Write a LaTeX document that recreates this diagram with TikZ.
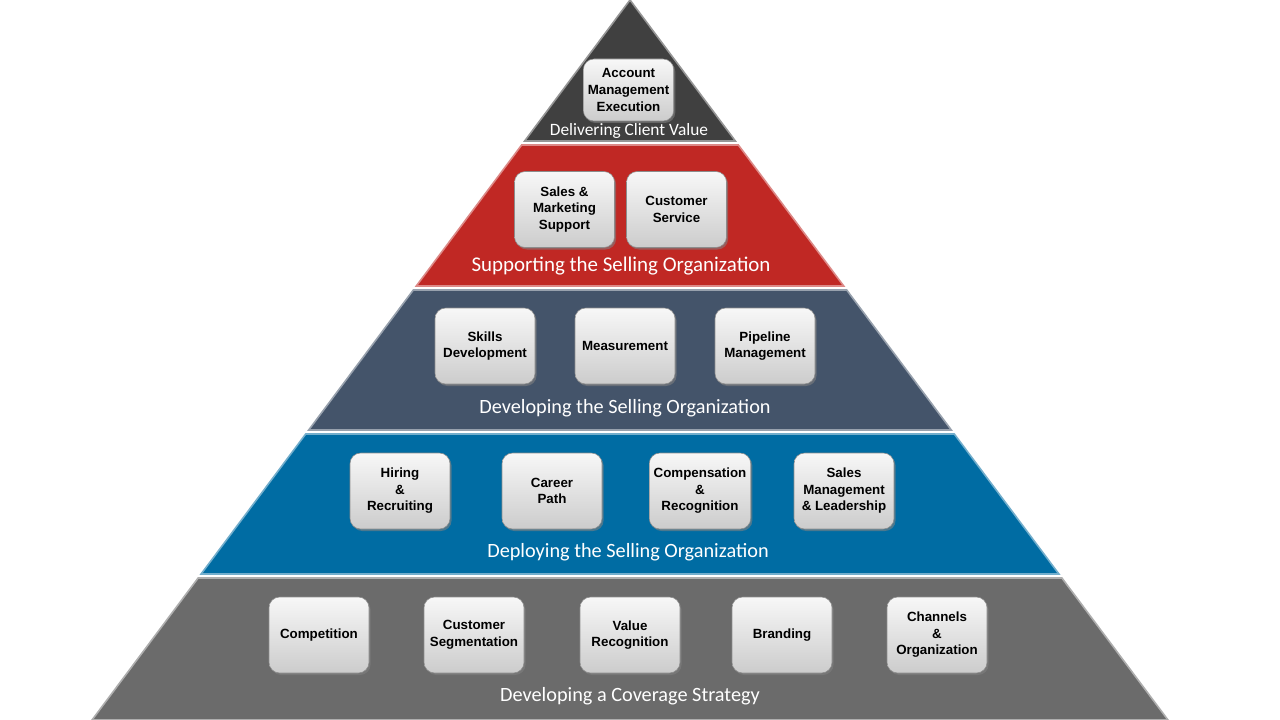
\documentclass[tikz,border=0pt]{standalone}
\usepackage{fontspec}
\setmainfont{Carlito}
\newfontfamily\boxfont{Liberation Sans}
\usepackage{tikz}
\usetikzlibrary{shadows,positioning}
\definecolor{apexgray}{RGB}{64,64,64}
\definecolor{supportred}{RGB}{192,40,36}
\definecolor{slateblue}{RGB}{68,84,106}
\definecolor{deepblue}{RGB}{0,108,163}
\definecolor{basegray}{RGB}{107,107,107}
\tikzstyle{tile}=[rectangle,rounded corners=8pt,draw=black!45,top color=black!3,bottom color=black!20,minimum width=75pt,minimum height=57pt,align=center,font=\boxfont\bfseries\fontsize{10}{12.4}\selectfont,drop shadow={opacity=.6,shadow xshift=1.2pt,shadow yshift=-1.5pt}]
\tikzstyle{tiername}=[text=white,font=\fontsize{15.2}{18}\selectfont]
\tikzstyle{bevel}=[line width=1.2pt,line join=miter]
% one tier of the pyramid, between rows #1 and #2
\newcommand{\tier}[3]{%
  \filldraw[bevel,fill=#3,draw=#3!55!white]
    ({630-0.7472*#1},#1) -- ({630+0.7472*#1},#1) --
    ({630+0.7472*#2},#2) -- ({630-0.7472*#2},#2) -- cycle;}

\begin{document}
\begin{tikzpicture}[x=0.75pt,y=-0.75pt]
  \useasboundingbox (0,0) rectangle (1280,720);

  \tier{1}{141}{apexgray}
  \tier{145}{286}{supportred}
  \tier{290}{430}{slateblue}
  \tier{434}{574}{deepblue}
  \tier{578}{720}{basegray}

  % delivering
  \node[tile,minimum width=64pt,minimum height=46.5pt] (acct) at (628.5,90) {Account\\Management\\Execution};
  \node[tiername,font=\fontsize{13}{15}\selectfont] (deliver) at (629,131) {Delivering Client Value};

  % supporting
  \node[tile] (salesmkt) at (564.5,209.5) {Sales \&\\Marketing\\Support};
  \node[tile] (custsvc)  at (676.5,209.5) {Customer\\Service};
  \node[tiername,font=\fontsize{15.7}{18}\selectfont] (support) at (621,266) {Supporting the Selling Organization};

  % developing
  \node[tile] (skills)   at (485,346) {Skills\\Development};
  \node[tile] (measure)  at (625,346) {Measurement};
  \node[tile] (pipeline) at (765,346) {Pipeline\\Management};
  \node[tiername] (develop) at (625,408) {Developing the Selling Organization};

  % deploying
  \node[tile] (hiring)  at (400,491) {Hiring\\\&\\Recruiting};
  \node[tile] (career)  at (552,491) {Career\\Path};
  \node[tile] (comp)    at (700,491) {Compensation\\\&\\Recognition};
  \node[tile] (salesmgt) at (844,491) {Sales\\Management\\\& Leadership};
  \node[tiername] (deploy) at (628,552) {Deploying the Selling Organization};

  % coverage
  \node[tile] (compet)  at (319,635) {Competition};
  \node[tile] (custseg) at (474,635) {Customer\\Segmentation};
  \node[tile] (value)   at (630,635) {Value\\Recognition};
  \node[tile] (brand)   at (782,635) {Branding};
  \node[tile] (channel) at (937,635) {Channels\\\&\\Organization};
  \node[tiername] (coverage) at (630,696) {Developing a Coverage Strategy};
\end{tikzpicture}
\end{document}
